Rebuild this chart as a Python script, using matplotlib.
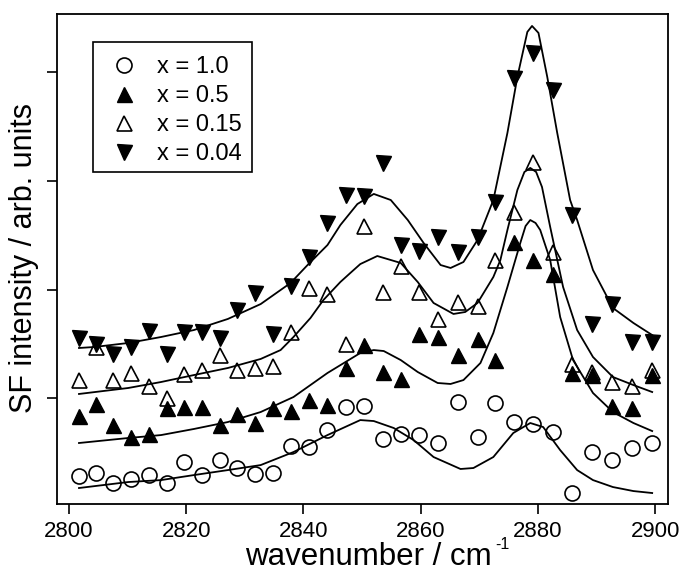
import matplotlib
matplotlib.use("Agg")
import matplotlib.pyplot as plt
from matplotlib.patches import Rectangle

plt.rcParams['font.family'] = ['Liberation Sans', 'DejaVu Sans']

# ---------------- data ----------------
wavenumber = [2801.7, 2804.6, 2807.5, 2810.6, 2813.6, 2816.7, 2819.6, 2822.7,
              2825.7, 2828.6, 2831.7, 2834.8, 2837.8, 2840.9, 2844.1, 2847.2,
              2850.4, 2853.5, 2856.7, 2859.8, 2862.9, 2866.3, 2869.7, 2872.7,
              2876.0, 2879.2, 2882.5, 2885.9, 2889.3, 2892.7, 2896.1, 2899.5]

sf_x100 = [0.285, 0.313, 0.221, 0.258, 0.294, 0.221, 0.414, 0.294, 0.432, 0.359,
           0.304, 0.313, 0.561, 0.552, 0.708, 0.920, 0.929, 0.626, 0.672, 0.662,
           0.589, 0.966, 0.644, 0.957, 0.782, 0.764, 0.690, 0.129, 0.506, 0.432,
           0.543, 0.589]
sf_x050 = [0.837, 0.948, 0.754, 0.644, 0.672, 0.911, 0.920, 0.920, 0.754, 0.856,
           0.773, 0.911, 0.883, 0.984, 0.938, 1.279, 1.490, 1.242, 1.178, 1.592,
           1.564, 1.398, 1.546, 1.352, 2.438, 2.272, 2.144, 1.233, 1.214, 0.929,
           0.911, 1.214]
sf_x015 = [1.168, 1.472, 1.168, 1.233, 1.113, 1.003, 1.224, 1.260, 1.398, 1.260,
           1.279, 1.297, 1.610, 2.015, 1.960, 1.500, 2.585, 1.978, 2.217, 1.978,
           1.730, 1.886, 1.849, 2.272, 2.714, 3.174, 2.346, 1.316, 1.242, 1.150,
           1.113, 1.260]
sf_x004 = [1.555, 1.500, 1.408, 1.472, 1.619, 1.408, 1.610, 1.610, 1.555, 1.812,
           1.969, 1.592, 2.033, 2.300, 2.613, 2.870, 2.861, 3.165, 2.410, 2.355,
           2.484, 2.346, 2.484, 2.806, 3.947, 4.177, 3.836, 2.686, 1.684, 1.868,
           1.518, 1.518]

# fitted curves
fit_x004_wn = [2801.7, 2804.3, 2810.1, 2815.7, 2821.3, 2827.1, 2832.7, 2837.8, 2840.7,
               2844.1, 2846.3, 2849.2, 2852.0, 2854.9, 2857.8, 2860.5, 2863.4, 2865.1,
               2867.3, 2869.7, 2872.4, 2874.8, 2876.5, 2878.2, 2879.0, 2880.1, 2881.6,
               2883.3, 2885.5, 2886.7, 2889.4, 2892.8, 2896.3, 2899.5]
fit_x004 = [1.463, 1.472, 1.509, 1.564, 1.628, 1.730, 1.867, 2.061, 2.226,
            2.410, 2.594, 2.787, 2.880, 2.824, 2.640, 2.429, 2.226, 2.199,
            2.254, 2.456, 2.824, 3.441, 3.956, 4.370, 4.425, 4.361, 3.956,
            3.441, 2.824, 2.640, 2.180, 1.831, 1.693, 1.582]

fit_x015_wn = [2801.7, 2810.1, 2815.7, 2821.3, 2827.1, 2832.7, 2836.1, 2838.3, 2841.2,
               2843.4, 2846.3, 2848.0, 2849.7, 2852.6, 2856.6, 2859.5, 2862.2, 2865.6,
               2867.6, 2869.7, 2872.4, 2873.6, 2874.8, 2876.5, 2877.7, 2878.7, 2879.7,
               2880.7, 2882.1, 2884.3, 2886.7, 2889.4, 2892.8, 2896.3, 2899.5]
fit_x015 = [1.040, 1.095, 1.150, 1.214, 1.279, 1.362, 1.444, 1.564, 1.739,
            1.904, 2.070, 2.153, 2.235, 2.309, 2.245, 2.070, 1.877, 1.776,
            1.794, 1.877, 2.116, 2.272, 2.548, 2.916, 3.082, 3.119, 3.082,
            2.944, 2.576, 2.024, 1.628, 1.380, 1.196, 1.122, 1.058]

fit_x050_wn = [2801.7, 2810.1, 2815.7, 2821.3, 2827.1, 2832.7, 2838.3, 2844.1, 2849.7,
               2852.0, 2853.7, 2856.6, 2859.5, 2862.9, 2865.1, 2867.3, 2870.2, 2872.4,
               2874.8, 2877.0, 2877.9, 2878.7, 2879.6, 2880.4, 2882.1, 2883.8, 2886.0,
               2889.4, 2892.8, 2896.3, 2899.5]
fit_x050 = [0.589, 0.635, 0.662, 0.718, 0.782, 0.874, 1.012, 1.233, 1.417,
            1.444, 1.435, 1.352, 1.242, 1.141, 1.132, 1.168, 1.325, 1.601,
            2.024, 2.429, 2.585, 2.640, 2.613, 2.548, 2.272, 1.748, 1.352,
            1.049, 0.874, 0.773, 0.699]

fit_x100_wn = [2801.7, 2810.1, 2815.7, 2821.3, 2827.1, 2832.7, 2838.3, 2844.1, 2849.7,
               2852.0, 2855.4, 2858.8, 2862.2, 2866.8, 2869.0, 2872.4, 2875.8, 2878.7,
               2880.9, 2883.8, 2886.7, 2889.4, 2892.8, 2896.3, 2899.5]
fit_x100 = [0.175, 0.230, 0.248, 0.294, 0.340, 0.386, 0.506, 0.662, 0.800,
            0.791, 0.727, 0.616, 0.460, 0.350, 0.359, 0.460, 0.681, 0.773,
            0.736, 0.524, 0.340, 0.248, 0.184, 0.147, 0.129]

labels = ['x = 1.0', 'x = 0.5', 'x = 0.15', 'x = 0.04']
xticks = [2800, 2820, 2840, 2860, 2880, 2900]
yticks = [1, 2, 3, 4]

# ---------------- figure ----------------
W, H = 682, 571
fig = plt.figure(figsize=(W/100, H/100), dpi=100)
ax = fig.add_axes([57/W, 1-504/H, 611/W, 490/H])

lw = 1.3
for fx, fy in [(fit_x100_wn, fit_x100), (fit_x050_wn, fit_x050),
               (fit_x015_wn, fit_x015), (fit_x004_wn, fit_x004)]:
    ax.plot(fx, fy, color='black', lw=lw, zorder=2)

ms = 10.8
ax.plot(wavenumber, sf_x100, ls='none', marker='o', ms=ms, mfc='none', mec='black',
        mew=1.2, label=labels[0], zorder=3)
ax.plot(wavenumber, sf_x050, ls='none', marker='^', ms=ms, mfc='black', mec='black',
        mew=1.0, label=labels[1], zorder=3)
ax.plot(wavenumber, sf_x015, ls='none', marker='^', ms=ms, mfc='none', mec='black',
        mew=1.2, label=labels[2], zorder=3)
ax.plot(wavenumber, sf_x004, ls='none', marker='v', ms=ms, mfc='black', mec='black',
        mew=1.0, label=labels[3], zorder=3)

ax.set_xlim(2797.95, 2902.2)
ax.set_ylim(0.028, 4.535)
ax.set_xticks(xticks)
ax.set_xticklabels([str(t) for t in xticks])
ax.set_yticks(yticks)
ax.set_yticklabels([])
ax.tick_params(axis='both', direction='out', length=7.5, width=1.2, labelsize=16,
               pad=4.5, top=False, right=False)
for s in ax.spines.values():
    s.set_linewidth(1.3)

# x label with a small raised "-1"
fig.text(368/W, 1-565/H, 'wavenumber / cm', ha='center', va='baseline', fontsize=22.5)
fig.text(495/W, 1-549/H, '-1', ha='left', va='baseline', fontsize=11.5)
fig.text(24/W, 1-258/H, 'SF intensity / arb. units', ha='center', va='center',
         rotation=90, fontsize=22)

leg = ax.legend(loc='upper left', bbox_to_anchor=((93-57)/611, (504-47)/490),
                fontsize=17, frameon=False, handlelength=1.8, handletextpad=0.5,
                labelspacing=0.29, borderpad=0.4, borderaxespad=0)
fig.patches.append(Rectangle((93/W, 1-172/H), 159/W, 130/H, transform=fig.transFigure,
                             fill=False, edgecolor='black', lw=1.2, zorder=5))

fig.savefig('out.png', dpi=100)
